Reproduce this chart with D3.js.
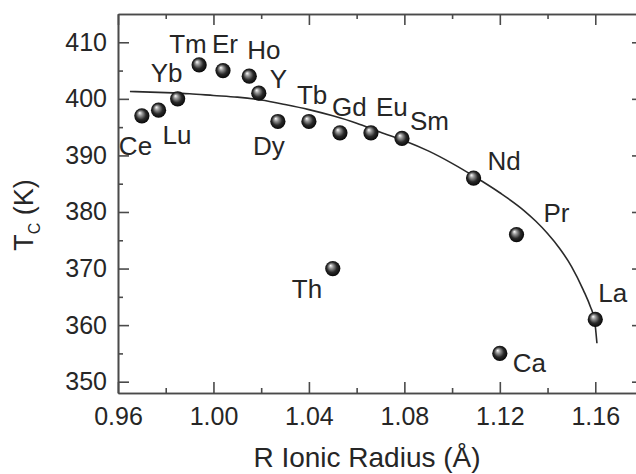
<!DOCTYPE html>
<html>
<head>
<meta charset="utf-8">
<script src="https://cdn.jsdelivr.net/npm/d3@7"></script>
<style>
  body { margin: 0; background: #fff; }
  svg { display: block; overflow: hidden; }
  text { font-family: "Liberation Sans", Arial, Helvetica, sans-serif; fill: #262626; }
  .axis path, .axis line { stroke: #4a4a4a; stroke-width: 1.6px; }
</style>
</head>
<body>
<svg width="636" height="474"></svg>
<script>
  // data
  const elements = ["Ce", "Lu", "Yb", "Tm", "Er", "Ho", "Y", "Dy", "Tb", "Gd", "Eu", "Sm", "Nd", "Pr", "La", "Ca", "Th"];
  const radius   = [0.970, 0.977, 0.985, 0.994, 1.004, 1.015, 1.019, 1.027, 1.040, 1.053, 1.066, 1.079, 1.109, 1.127, 1.160, 1.120, 1.050];
  const tc       = [397, 398, 400, 406, 405, 404, 401, 396, 396, 394, 394, 393, 386, 376, 361, 355, 370];

  // fitted curve, points
  const fitR  = [0.965, 0.980, 0.990, 1.000, 1.010, 1.020, 1.030, 1.040, 1.050, 1.060, 1.070, 1.080, 1.090, 1.100, 1.110, 1.120, 1.130, 1.135, 1.140, 1.145, 1.150, 1.155, 1.158, 1.1597, 1.1607];
  const fitTc = [401.3, 401.1, 400.9, 400.6, 400.3, 399.8, 399.0, 398.1, 397.0, 395.7, 394.1, 392.6, 390.8, 388.6, 386.1, 383.4, 380.3, 378.4, 376.2, 373.6, 370.4, 366.2, 363.2, 360.9, 356.8];

  const xTicks = [0.96, 1.00, 1.04, 1.08, 1.12, 1.16];
  const xMinor = [0.98, 1.02, 1.06, 1.10, 1.14];
  const yTicks = [350, 360, 370, 380, 390, 400, 410];
  const yMinor = [355, 365, 375, 385, 395, 405];

  // label offsets from the point centre (px)
  const labelOffset = {
    Ce: [-23, 39], Lu: [4, 34], Yb: [-27, -17], Tm: [-30, -12], Er: [-11, -18],
    Ho: [-2, -17], Y: [11, -5], Dy: [-25, 34], Tb: [-12, -17], Gd: [-8, -17],
    Eu: [5, -17], Sm: [8, -8], Nd: [14, -8], Pr: [27, -13], La: [3, -17],
    Ca: [13, 19], Th: [-41, 29]
  };

  const svg = d3.select("svg");
  const m = { left: 118, top: 14, right: 643, bottom: 393 };

  const x = d3.scaleLinear().domain([0.96, 1.18]).range([m.left, m.right]);
  const y = d3.scaleLinear().domain([348, 415]).range([m.bottom, m.top]);

  // gradient for the shaded balls
  const grad = svg.append("defs").append("radialGradient")
    .attr("id", "ball").attr("cx", "50%").attr("cy", "50%").attr("r", "55%")
    .attr("fx", "35%").attr("fy", "30%");
  grad.append("stop").attr("offset", "0%").attr("stop-color", "#ffffff");
  grad.append("stop").attr("offset", "25%").attr("stop-color", "#9a9a9a");
  grad.append("stop").attr("offset", "60%").attr("stop-color", "#2a2a2a");
  grad.append("stop").attr("offset", "100%").attr("stop-color", "#000000");

  // axes, ticks pointing inward on all four sides
  const g = svg.append("g");
  const addAxis = (axis, tr, cls) => g.append("g").attr("class", "axis " + (cls || ""))
    .attr("transform", tr).call(axis);

  addAxis(d3.axisBottom(x).tickValues(xTicks).tickSize(-11).tickSizeOuter(0)
    .tickPadding(14).tickFormat(d3.format(".2f")), `translate(0,${m.bottom})`, "xb");
  addAxis(d3.axisBottom(x).tickValues(xMinor).tickSize(-5).tickSizeOuter(0).tickFormat(""), `translate(0,${m.bottom})`);
  addAxis(d3.axisTop(x).tickValues(xTicks).tickSize(-11).tickSizeOuter(0).tickFormat(""), `translate(0,${m.top})`);
  addAxis(d3.axisTop(x).tickValues(xMinor).tickSize(-5).tickSizeOuter(0).tickFormat(""), `translate(0,${m.top})`);

  addAxis(d3.axisLeft(y).tickValues(yTicks).tickSize(-11).tickSizeOuter(0)
    .tickPadding(11), `translate(${m.left},0)`, "yl");
  addAxis(d3.axisLeft(y).tickValues(yMinor).tickSize(-5).tickSizeOuter(0).tickFormat(""), `translate(${m.left},0)`);
  addAxis(d3.axisRight(y).tickValues(yTicks).tickSize(-11).tickSizeOuter(0).tickFormat(""), `translate(${m.right},0)`);
  addAxis(d3.axisRight(y).tickValues(yMinor).tickSize(-5).tickSizeOuter(0).tickFormat(""), `translate(${m.right},0)`);

  g.selectAll(".xb text, .yl text")
    .style("font-size", "25px").style("font-family", "'Liberation Sans', Arial, sans-serif")
    .attr("fill", "#262626");

  // fit curve
  const line = d3.line().x((d, i) => x(fitR[i])).y((d, i) => y(fitTc[i])).curve(d3.curveMonotoneX);
  svg.append("path").datum(fitR).attr("d", line)
    .attr("fill", "none").attr("stroke", "#2a2a2a").attr("stroke-width", 1.6);

  // points
  const pts = elements.map((e, i) => ({ e, r: radius[i], t: tc[i] }));
  svg.selectAll("circle.pt").data(pts).enter().append("circle")
    .attr("class", "pt")
    .attr("cx", d => x(d.r)).attr("cy", d => y(d.t)).attr("r", 7.6)
    .attr("fill", "url(#ball)");

  svg.selectAll("text.lbl").data(pts).enter().append("text")
    .attr("class", "lbl")
    .attr("x", d => x(d.r) + labelOffset[d.e][0])
    .attr("y", d => y(d.t) + labelOffset[d.e][1])
    .style("font-size", "26px")
    .text(d => d.e);

  // axis titles
  svg.append("text").attr("x", 367).attr("y", 467).attr("text-anchor", "middle")
    .style("font-size", "28px").text("R Ionic Radius (Å)");

  const yt = svg.append("text").attr("transform", "translate(33,215) rotate(-90)")
    .attr("text-anchor", "middle").style("font-size", "27px");
  yt.append("tspan").text("T");
  yt.append("tspan").attr("dy", 7).style("font-size", "16px").text("C");
  yt.append("tspan").attr("dy", -7).text(" (K)");
</script>
</body>
</html>
